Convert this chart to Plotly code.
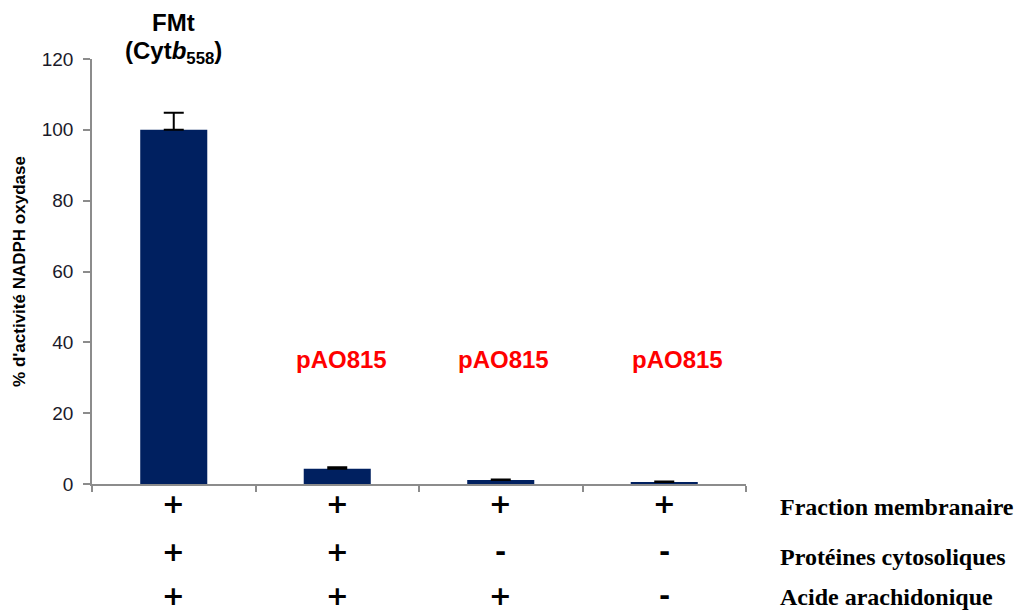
import plotly.graph_objects as go

# Data
categories = ["FMt", "pAO815 A", "pAO815 B", "pAO815 C"]
activity = [100, 4.3, 1.1, 0.6]
errors = [4.8, 0.4, 0.2, 0.1]
top_labels = ["", "pAO815", "pAO815", "pAO815"]
row_names = ["Fraction membranaire", "Protéines cytosoliques", "Acide arachidonique"]
row_signs = [
    ["+", "+", "+", "+"],
    ["+", "+", "-", "-"],
    ["+", "+", "+", "-"],
]
y_ticks = [0, 20, 40, 60, 80, 100, 120]

fig = go.Figure(go.Bar(
    x=categories, y=activity,
    marker=dict(color="#002060", line=dict(color="#002060", width=0)),
    width=0.41,
    error_y=dict(type="data", array=errors, arrayminus=[0] * len(errors),
                 symmetric=False, color="black", thickness=2, width=10),
))

# FMt header above first bar
fig.add_annotation(x=categories[0], y=1.087, yref="paper", yanchor="middle",
                   text="<b>FMt</b>", showarrow=False,
                   font=dict(family="Liberation Sans", size=24, color="black"))
fig.add_annotation(x=categories[0], y=1.016, yref="paper", yanchor="middle",
                   text="<b>(Cyt<i>b</i><sub>558</sub>)</b>", showarrow=False,
                   font=dict(family="Liberation Sans", size=24, color="black"))

# red plasmid labels
shifts = [0, 4, 3, 13]
for cat, lab, sx in zip(categories, top_labels, shifts):
    if lab:
        fig.add_annotation(x=cat, y=0.292, yref="paper", yanchor="middle",
                           text="<b>" + lab + "</b>", xshift=sx, showarrow=False,
                           font=dict(family="Liberation Sans", size=24, color="red"))

# condition rows: signs under each bar, names on the right
sign_y = [-0.045, -0.158, -0.262]
name_y = [-0.054, -0.172, -0.266]
name_x = (770 - 84) / 654
for sy, ny, name, signs in zip(sign_y, name_y, row_names, row_signs):
    for cat, s in zip(categories, signs):
        fig.add_annotation(x=cat, y=sy, yref="paper", yanchor="middle",
                           text="<b>" + s + "</b>", showarrow=False,
                           font=dict(family="DejaVu Sans", size=27, color="black"))
    fig.add_annotation(x=name_x, xref="paper", y=ny, yref="paper",
                       xanchor="left", yanchor="middle",
                       text="<b>" + name + "</b>", showarrow=False,
                       font=dict(family="Liberation Serif", size=24, color="black"))

# page body adds an 8px margin, so the figure is a little smaller
fig.update_layout(
    width=1016, height=604,
    margin=dict(l=84, r=278, t=51, b=128),
    plot_bgcolor="white", paper_bgcolor="white",
    showlegend=False,
    xaxis=dict(type="category", showticklabels=False, tickson="boundaries",
               ticks="outside", ticklen=6, tickcolor="#8c8c8c", tickwidth=1.5,
               showline=True, linecolor="#8c8c8c", linewidth=1.5,
               showgrid=False, zeroline=False, automargin=False),
    yaxis=dict(range=[0, 120], tickvals=y_ticks, ticks="outside", ticklen=7,
               tickcolor="#8c8c8c", tickwidth=1.5, ticklabelstandoff=6,
               showline=True, linecolor="#8c8c8c", linewidth=1.5,
               showgrid=False, zeroline=False, automargin=False,
               tickfont=dict(family="Liberation Sans", size=19, color="#1a1a2a"),
               title=dict(text="<b>% d'activité NADPH oxydase</b>", standoff=12,
                          font=dict(family="Liberation Sans", size=17, color="black"))),
)

fig.write_html("out.html")
